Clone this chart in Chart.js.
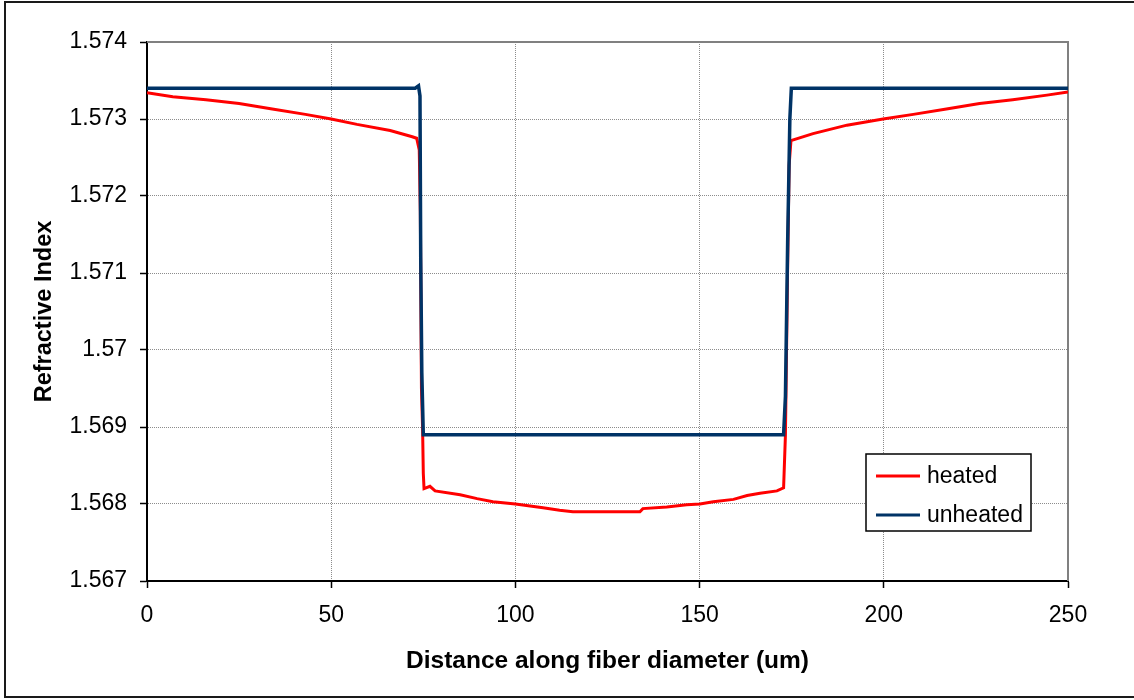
<!DOCTYPE html>
<html>
<head>
<meta charset="utf-8">
<script src="https://cdn.jsdelivr.net/npm/chart.js@4.4.1/dist/chart.umd.min.js"></script>
<style>
  html, body { margin: 0; padding: 0; background: #ffffff; }
  canvas { display: block; }
</style>
</head>
<body>
<canvas id="c" width="1134" height="700"></canvas>
<script>
// ---- data ----
const seriesNames = ['heated', 'unheated'];

const heatedX = [0, 7, 16, 25, 34, 43, 50, 57, 66, 72, 73.2, 73.9, 74.2, 74.5, 74.8, 75.0, 75.2, 76.8, 78.2, 85, 89.6, 93.9, 100, 107.5, 112, 115.6, 125.7, 133.8, 134.6, 141.1, 146.5, 150.1, 153.7, 159.2, 162.9, 166.4, 171, 172.8, 173.3, 173.9, 174.3, 174.8, 180.8, 190, 199.8, 208, 217, 226, 235, 244.3, 250];
const heatedY = [1.57334, 1.57329, 1.57325, 1.57320, 1.57313, 1.57306, 1.57300, 1.57293, 1.57285, 1.57277, 1.57275, 1.57260, 1.57180, 1.56950, 1.56900, 1.56840, 1.56820, 1.56823, 1.56817, 1.56812, 1.56807, 1.56803, 1.56800, 1.56795, 1.56792, 1.56790, 1.56790, 1.56790, 1.56794, 1.56796, 1.56799, 1.56800, 1.56803, 1.56806, 1.56811, 1.56814, 1.56817, 1.56821, 1.56890, 1.57110, 1.57240, 1.57272, 1.57281, 1.57292, 1.57300, 1.57306, 1.57313, 1.57320, 1.57325, 1.57331, 1.57335];

const unheatedX = [0, 72.8, 73.7, 74.1, 74.3, 74.6, 75.0, 172.8, 173.3, 173.9, 174.5, 174.9, 250];
const unheatedY = [1.5734, 1.5734, 1.57343, 1.5733, 1.5712, 1.5697, 1.5689, 1.5689, 1.5694, 1.5714, 1.5730, 1.5734, 1.5734];

const xTickValues = [0, 50, 100, 150, 200, 250];
const yTickLabels = ['1.567', '1.568', '1.569', '1.57', '1.571', '1.572', '1.573', '1.574'];

const xTitle = 'Distance along fiber diameter (um)';
const yTitle = 'Refractive Index';

// ---- build chart ----
const toPoints = (xs, ys) => xs.map((x, i) => ({x: x, y: ys[i]}));
const FONT = "'Liberation Sans', Arial, sans-serif";

const bgPlugin = {
  id: 'bg',
  beforeDraw(chart) {
    const ctx = chart.ctx;
    ctx.save();
    ctx.fillStyle = '#ffffff';
    ctx.fillRect(0, 0, chart.width, chart.height);
    ctx.strokeStyle = '#1a1a1a';
    ctx.lineWidth = 2;
    ctx.strokeRect(5, 2, chart.width + 10, chart.height - 5);
    ctx.restore();
  },
  beforeDatasetsDraw(chart) {
    const a = chart.chartArea, ctx = chart.ctx;
    ctx.save();
    ctx.strokeStyle = '#808080';
    ctx.lineWidth = 2;
    ctx.beginPath();
    ctx.moveTo(a.left, a.top);
    ctx.lineTo(a.right, a.top);
    ctx.lineTo(a.right, a.bottom);
    ctx.stroke();
    ctx.restore();
  },
  afterDraw(chart) {
    const a = chart.chartArea, ctx = chart.ctx;
    const bx = a.right - 202, by = a.top + 412, bw = 165, bh = 77;
    ctx.save();
    ctx.fillStyle = '#ffffff';
    ctx.fillRect(bx, by, bw, bh);
    ctx.strokeStyle = '#000000';
    ctx.lineWidth = 1.5;
    ctx.strokeRect(bx, by, bw, bh);
    const legendSets = [0, 1].map(i => chart.data.datasets[i]);
    legendSets.forEach((ds, i) => {
      const ly = by + 22 + i * 39;
      ctx.strokeStyle = ds.borderColor;
      ctx.lineWidth = 3;
      ctx.beginPath();
      ctx.moveTo(bx + 10, ly);
      ctx.lineTo(bx + 54, ly);
      ctx.stroke();
      ctx.fillStyle = '#000000';
      ctx.font = '23px ' + FONT;
      ctx.textBaseline = 'middle';
      ctx.textAlign = 'left';
      ctx.fillText(ds.label, bx + 61, ly + 1);
    });
    ctx.restore();
  }
};

new Chart(document.getElementById('c'), {
  type: 'scatter',
  data: {
    datasets: [
      {
        label: seriesNames[0],
        data: toPoints(heatedX, heatedY),
        showLine: true,
        borderColor: '#ff0000',
        backgroundColor: '#ff0000',
        borderWidth: 3,
        pointRadius: 0,
        tension: 0,
        order: 1
      },
      {
        label: seriesNames[1],
        data: toPoints(unheatedX, unheatedY),
        showLine: true,
        borderColor: '#003366',
        backgroundColor: '#003366',
        borderWidth: 3.5,
        pointRadius: 0,
        tension: 0,
        order: 0
      }
    ]
  },
  options: {
    responsive: false,
    animation: false,
    devicePixelRatio: 1,
    layout: { padding: { left: 0, right: 66, top: 42, bottom: 0 } },
    plugins: {
      legend: { display: false },
      tooltip: { enabled: false }
    },
    scales: {
      x: {
        type: 'linear',
        min: 0,
        max: 250,
        afterFit(scale) { scale.height = 119; },
        afterBuildTicks(scale) { scale.ticks = xTickValues.map(v => ({value: v})); },
        ticks: {
          color: '#000000',
          font: { family: FONT, size: 23 },
          padding: 14,
          maxRotation: 0,
          callback: (v) => String(v)
        },
        grid: {
          color: '#8c8c8c',
          lineWidth: 1,
          tickLength: 7,
          tickColor: '#000000',
          tickWidth: 1.5
        },
        border: { display: true, color: '#000000', width: 2, dash: [1, 1] },
        title: {
          display: true,
          text: xTitle,
          color: '#000000',
          font: { family: FONT, size: 24.5, weight: 'bold' },
          padding: { top: 0, bottom: 24 }
        }
      },
      y: {
        type: 'linear',
        min: 1.567,
        max: 1.574,
        afterFit(scale) { scale.width = 147; },
        ticks: {
          stepSize: 0.001,
          color: '#000000',
          font: { family: FONT, size: 23 },
          padding: 13,
          callback: (v, i) => yTickLabels[i]
        },
        grid: {
          color: '#8c8c8c',
          lineWidth: 1,
          tickLength: 7,
          tickColor: '#000000',
          tickWidth: 1.5
        },
        border: { display: true, color: '#000000', width: 2, dash: [1, 1] },
        title: {
          display: true,
          text: yTitle,
          color: '#000000',
          font: { family: FONT, size: 23.5, weight: 'bold' },
          padding: { top: 30, bottom: 0 }
        }
      }
    }
  },
  plugins: [bgPlugin]
});
</script>
</body>
</html>
